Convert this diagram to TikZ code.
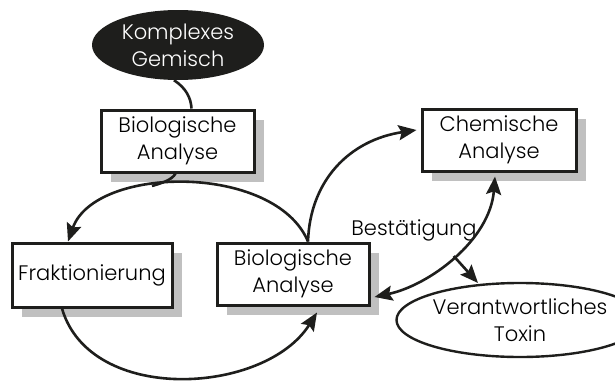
\documentclass[tikz,border=0pt]{standalone}
\usepackage{fontspec}
\setmainfont{Poppins}[UprightFont=* Light]
\usetikzlibrary{shapes.geometric,arrows.meta,shadows}
\definecolor{shad}{RGB}{192,192,192}
\definecolor{ink}{RGB}{30,30,28}
\begin{document}
\begin{tikzpicture}[x=1pt,y=-1pt,
  lbl/.style={font=\fontsize{21}{27}\selectfont, align=center, inner sep=0pt},
  boxn/.style={lbl, draw=ink, line width=3pt, fill=white, rectangle,
    drop shadow={shadow xshift=10pt, shadow yshift=-10pt, fill=shad, opacity=1}},
  conn/.style={draw=ink, line width=2.6pt},
  ah/.tip={Stealth[length=18pt,width=15pt,inset=3pt]},
  tip/.style={-ah}]
\useasboundingbox (0,0) rectangle (615,380);

\node[lbl, ellipse, fill=ink, text=white, minimum width=172pt, minimum height=70pt] (e1) at (178,45) {Komplexes\\Gemisch};
\node[boxn, minimum width=153pt, minimum height=62pt] (b1) at (177.5,141) {Biologische\\Analyse};
\node[boxn, minimum width=160pt, minimum height=64pt] (fr) at (92,275) {Fraktionierung};
\node[boxn, minimum width=152pt, minimum height=62pt] (b2) at (293,274) {Biologische\\Analyse};
\node[boxn, minimum width=154pt, minimum height=62pt] (ch) at (499,140) {Chemische\\Analyse};
\node[lbl, ellipse, draw=ink, line width=2.4pt, minimum width=184pt, minimum height=74pt] (tox) at (520,320) {Verantwortliches\\Toxin};
\node[lbl, anchor=base] (best) at (414,235) {Bestätigung};

% ellipse to first analysis
\draw[conn] ([xshift=-4pt]e1.south) .. controls (186,88) and (191,98) .. ([xshift=14pt]b1.north);
% arc from second analysis to Fraktionierung
\draw[conn, tip] ([xshift=15pt]b2.north) .. controls (275,163) and (95,165) .. ([xshift=-24pt]fr.north);
% first analysis joins the arc
\coordinate (j) at (152,186);
\draw[conn] ([xshift=-2pt]b1.south) .. controls (172,180) and (162,183) .. (j);
% Fraktionierung to second analysis
\draw[conn, tip] ([xshift=-30pt]fr.south) .. controls (90,405) and (265,395) .. ([xshift=24pt, yshift=-6pt]b2.south);
% second analysis to chemical analysis
\draw[conn, tip] ([xshift=15pt]b2.north) .. controls (310,180) and (350,140) .. ([xshift=-4pt, yshift=10pt]ch.west);
% confirmation double arrow
\draw[conn, ah-ah]
  ([xshift=-4pt, yshift=-4pt]ch.south) .. controls (490,240) and (430,285) .. ([xshift=4pt, yshift=-23pt]b2.east)
  coordinate[pos=0.5] (m);
\coordinate (t) at (478,283);
\draw[conn, tip] (m) -- (t);
\end{tikzpicture}
\end{document}
